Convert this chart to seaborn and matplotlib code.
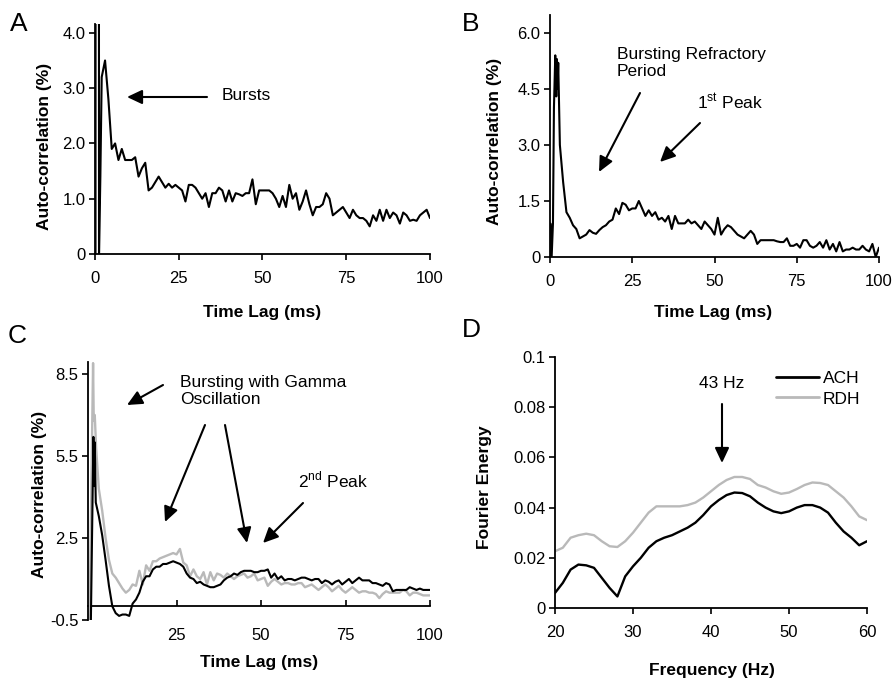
import numpy as np
import pandas as pd
import matplotlib
matplotlib.use("Agg")
import matplotlib.pyplot as plt
import seaborn as sns

# ---------------- data ----------------
# Panel A (auto-correlation, ms lag)
lag_a_start = [0.15, 0.2, 1.15, 1.2, 1.6]
acf_a_start = [0, 12, 12, 0, 1.4]
lag_a = list(range(2, 101))
acf_a = [3.2, 3.5, 2.8, 1.9, 2.0, 1.7, 1.9, 1.7, 1.7, 1.7,
         1.75, 1.4, 1.55, 1.65, 1.15, 1.2, 1.3, 1.4, 1.3, 1.2,
         1.27, 1.2, 1.25, 1.2, 1.15, 0.95, 1.25, 1.25, 1.2, 1.1,
         1.0, 1.1, 0.85, 1.1, 1.1, 1.2, 1.15, 0.95, 1.15, 0.95,
         1.1, 1.08, 1.05, 1.1, 1.1, 1.35, 0.9, 1.15, 1.15, 1.15,
         1.15, 1.1, 1.0, 0.85, 1.05, 0.85, 1.25, 1.0, 1.1, 0.8,
         0.95, 1.15, 0.9, 0.7, 0.85, 0.85, 0.9, 1.1, 1.0, 0.7,
         0.75, 0.8, 0.85, 0.75, 0.65, 0.8, 0.7, 0.65, 0.65, 0.6,
         0.5, 0.7, 0.6, 0.8, 0.6, 0.8, 0.65, 0.75, 0.7, 0.55,
         0.75, 0.7, 0.6, 0.62, 0.6, 0.7, 0.75, 0.8, 0.65]

# Panel B
lag_b_start = [0, 0.1, 0.5, 0.9, 1.2, 1.6, 1.9, 2.1, 2.3, 2.5]
acf_b_start = [0, 0.9, 0, 0.9, 4.0, 5.4, 4.3, 5.3, 4.5, 5.2]
lag_b = list(range(3, 101))
acf_b = [3.0, 2.0, 1.2, 1.05, 0.85, 0.75, 0.5, 0.55, 0.6, 0.72,
         0.65, 0.62, 0.72, 0.8, 0.85, 0.95, 1.0, 1.3, 1.15, 1.45,
         1.4, 1.25, 1.3, 1.3, 1.5, 1.3, 1.1, 1.25, 1.1, 1.2,
         1.0, 1.05, 0.95, 1.1, 0.75, 1.1, 0.9, 0.9, 0.9, 1.0,
         0.9, 0.95, 0.85, 0.75, 0.95, 0.85, 0.75, 0.6, 1.05, 0.6,
         0.75, 0.85, 0.8, 0.7, 0.6, 0.55, 0.5, 0.6, 0.7, 0.6,
         0.35, 0.45, 0.45, 0.45, 0.45, 0.45, 0.42, 0.4, 0.4, 0.5,
         0.3, 0.3, 0.35, 0.25, 0.45, 0.45, 0.3, 0.25, 0.3, 0.4,
         0.25, 0.45, 0.2, 0.35, 0.15, 0.4, 0.15, 0.2, 0.2, 0.25,
         0.2, 0.2, 0.3, 0.2, 0.15, 0.35, 0.0, 0.25]

# Panel C
lag_c_ach_start = [-0.4, 0.4, 0.6, 0.8, 1.1]
acf_c_ach_start = [-1.0, 6.2, 4.4, 6.0, 3.8]
lag_c_rdh_start = [-0.8, 0.3, 0.5, 0.8, 1.2]
acf_c_rdh_start = [-1.0, 8.9, 6.8, 7.0, 5.8]
lag_c = list(range(2, 101))
acf_c_ach = [3.3, 2.6, 1.7, 0.75, 0.0, -0.25, -0.35, -0.3, -0.3, -0.35,
             0.1, 0.25, 0.5, 0.9, 1.1, 1.1, 1.35, 1.45, 1.45, 1.55,
             1.55, 1.6, 1.65, 1.6, 1.55, 1.45, 1.2, 1.05, 1.0, 0.85,
             0.9, 0.8, 0.75, 0.7, 0.7, 0.75, 0.8, 0.95, 1.05, 1.1,
             1.2, 1.15, 1.25, 1.3, 1.3, 1.3, 1.25, 1.25, 1.3, 1.3,
             1.35, 1.05, 1.2, 1.0, 1.1, 0.95, 1.0, 1.0, 0.95, 1.0,
             1.05, 1.05, 1.0, 0.95, 1.0, 1.0, 0.85, 0.95, 0.9, 0.8,
             0.9, 0.95, 0.8, 0.9, 1.0, 0.85, 0.95, 1.05, 0.95, 0.95,
             0.95, 0.85, 0.85, 0.8, 0.75, 0.85, 0.8, 0.55, 0.6, 0.6,
             0.6, 0.6, 0.7, 0.65, 0.6, 0.65, 0.6, 0.6, 0.6]
acf_c_rdh = [4.3, 3.5, 2.5, 1.7, 1.2, 1.05, 0.85, 0.65, 0.5, 0.6,
             0.8, 0.75, 1.3, 0.8, 1.5, 1.3, 1.65, 1.65, 1.75, 1.8,
             1.85, 1.9, 1.95, 1.9, 2.1, 1.6, 1.5, 1.1, 1.35, 1.1,
             1.0, 1.25, 0.8, 1.25, 0.95, 1.2, 1.15, 1.05, 1.2, 1.1,
             1.0, 1.1, 1.15, 1.2, 1.05, 1.1, 1.2, 0.95, 1.0, 1.05,
             0.75, 0.9, 1.0, 0.9, 0.8, 0.85, 0.85, 0.8, 0.8, 0.85,
             0.85, 0.7, 0.75, 0.8, 0.7, 0.6, 0.7, 0.8, 0.7, 0.55,
             0.65, 0.75, 0.6, 0.5, 0.6, 0.7, 0.6, 0.5, 0.55, 0.55,
             0.5, 0.5, 0.45, 0.3, 0.45, 0.55, 0.5, 0.5, 0.5, 0.5,
             0.6, 0.55, 0.4, 0.5, 0.5, 0.45, 0.4, 0.4, 0.4]

# Panel D (Fourier energy)
freq_d = list(range(20, 61))
energy_ach = [0.006, 0.010, 0.0153, 0.0173, 0.017, 0.016, 0.012, 0.008, 0.0046, 0.0126,
              0.0166, 0.020, 0.024, 0.0266, 0.028, 0.029, 0.0305, 0.032, 0.034, 0.037,
              0.0405, 0.043, 0.045, 0.046, 0.0458, 0.0445, 0.042, 0.040, 0.0385, 0.0378,
              0.0385, 0.040, 0.041, 0.041, 0.040, 0.038, 0.034, 0.0305, 0.028, 0.025,
              0.0266]
energy_rdh = [0.0226, 0.024, 0.028, 0.029, 0.0296, 0.029, 0.0266, 0.0246, 0.0243, 0.0266,
              0.030, 0.034, 0.038, 0.0405, 0.0405, 0.0405, 0.0405, 0.041, 0.042, 0.044,
              0.0465, 0.049, 0.051, 0.0522, 0.0522, 0.0514, 0.049, 0.048, 0.0465, 0.0455,
              0.046, 0.0474, 0.049, 0.050, 0.0498, 0.049, 0.0465, 0.044, 0.0405, 0.0365,
              0.035]

yticks_a = [0, 1.0, 2.0, 3.0, 4.0]
ytick_labels_a = ["0", "1.0", "2.0", "3.0", "4.0"]
yticks_b = [0, 1.5, 3.0, 4.5, 6.0]
ytick_labels_b = ["0", "1.5", "3.0", "4.5", "6.0"]
yticks_c = [-0.5, 2.5, 5.5, 8.5]
ytick_labels_c = ["-0.5", "2.5", "5.5", "8.5"]
yticks_d = [0, 0.02, 0.04, 0.06, 0.08, 0.1]
ytick_labels_d = ["0", "0.02", "0.04", "0.06", "0.08", "0.1"]
xticks_lag = [0, 25, 50, 75, 100]
xticks_c = [25, 50, 75, 100]
xticks_d = [20, 30, 40, 50, 60]

# ---------------- style ----------------
sns.set_theme(style="ticks")
plt.rcParams["font.family"] = ["Liberation Sans", "DejaVu Sans"]
plt.rcParams["mathtext.fontset"] = "custom"
plt.rcParams["mathtext.rm"] = "Liberation Sans"
plt.rcParams["axes.linewidth"] = 1.3
plt.rcParams["axes.edgecolor"] = "black"
plt.rcParams["text.color"] = "black"
plt.rcParams["axes.labelcolor"] = "black"
plt.rcParams["xtick.color"] = "black"
plt.rcParams["ytick.color"] = "black"

W, H = 895, 680
fig = plt.figure(figsize=(W / 100, H / 100), dpi=100)


def fx(px):
    return px / W


def fy(py):
    return 1 - py / H


def add_axes(l, r, top, bottom):
    return fig.add_axes([fx(l), fy(bottom), (r - l) / W, (bottom - top) / H])


BLACK = "black"
GRAY = "#b9b9b9"
TICK_FS = 12
LABEL_FS = 12.5


def style_axes(ax):
    sns.despine(ax=ax)
    ax.tick_params(axis="both", direction="out", length=4, width=1.2,
                   labelsize=TICK_FS, colors="black", labelcolor="black", pad=3)
    ax.set_xlabel("")
    ax.set_ylabel("")


# ---- Panel A ----
axA = add_axes(95, 430, 24, 254)
dfA = pd.DataFrame({"lag": lag_a_start + lag_a, "acf": acf_a_start + acf_a})
sns.lineplot(data=dfA, x="lag", y="acf", ax=axA, color=BLACK, lw=1.5,
             estimator=None, sort=False)
axA.set_xlim(0, 100)
axA.set_ylim(0, 4.16)
axA.set_xticks(xticks_lag)
axA.set_yticks(yticks_a, ytick_labels_a)
style_axes(axA)
axA.tick_params(axis="x", pad=8)

# ---- Panel B ----
axB = add_axes(550, 879, 15, 257)
dfB = pd.DataFrame({"lag": lag_b_start + lag_b, "acf": acf_b_start + acf_b})
sns.lineplot(data=dfB, x="lag", y="acf", ax=axB, color=BLACK, lw=1.5,
             estimator=None, sort=False)
axB.set_xlim(0, 100)
axB.set_ylim(0, 6.48)
axB.set_xticks(xticks_lag)
axB.set_yticks(yticks_b, ytick_labels_b)
style_axes(axB)
axB.tick_params(axis="x", pad=8)

# ---- Panel C ----
axC = add_axes(88, 430, 362, 620)
dfC_r = pd.DataFrame({"lag": lag_c_rdh_start + lag_c, "acf": acf_c_rdh_start + acf_c_rdh})
dfC_a = pd.DataFrame({"lag": lag_c_ach_start + lag_c, "acf": acf_c_ach_start + acf_c_ach})
sns.lineplot(data=dfC_r, x="lag", y="acf", ax=axC, color=GRAY, lw=1.7,
             estimator=None, sort=False)
sns.lineplot(data=dfC_a, x="lag", y="acf", ax=axC, color=BLACK, lw=1.5,
             estimator=None, sort=False)
c_ylim = (-0.5, 8.94)
axC.set_xlim(-1.2, 100)
axC.set_ylim(*c_ylim)
axC.set_xticks(xticks_c)
axC.set_yticks(yticks_c, ytick_labels_c)
style_axes(axC)
axC.spines["bottom"].set_visible(False)
axC.tick_params(axis="x", length=0, pad=6)
zero_frac = (0 - c_ylim[0]) / (c_ylim[1] - c_ylim[0])
secC = axC.secondary_xaxis(zero_frac)
secC.set_xticks(xticks_c)
secC.tick_params(axis="x", direction="in", length=4, width=1.2,
                 labelbottom=False, labeltop=False)
secC.spines["bottom"].set_linewidth(1.3)

# ---- Panel D ----
axD = add_axes(555, 867, 357, 608)
dfD = pd.DataFrame({
    "freq": freq_d + freq_d,
    "energy": energy_ach + energy_rdh,
    "series": ["ACH"] * len(freq_d) + ["RDH"] * len(freq_d),
})
sns.lineplot(data=dfD, x="freq", y="energy", hue="series",
             hue_order=["ACH", "RDH"], palette={"ACH": BLACK, "RDH": GRAY},
             ax=axD, lw=1.7, estimator=None, sort=False)
axD.set_xlim(20, 60)
axD.set_ylim(0, 0.1)
axD.set_xticks(xticks_d)
axD.set_yticks(yticks_d, ytick_labels_d)
style_axes(axD)
axD.tick_params(axis="x", pad=8)
leg = axD.legend(loc="upper left", bbox_to_anchor=(fx(776), fy(371)),
                 bbox_transform=fig.transFigure, frameon=False, fontsize=12.5,
                 handlelength=2.5, handletextpad=0.2, borderpad=0,
                 borderaxespad=0, labelspacing=0.3)
for line in leg.get_lines():
    line.set_linewidth(2.0)
for t in leg.get_texts():
    t.set_color("black")

# ---------------- labels ----------------
def ftext(px, py, s, **kw):
    fig.text(fx(px), fy(py), s, color="black", **kw)


for letter, (px, py) in {"A": (10, 24), "B": (462, 24), "C": (8, 336), "D": (462, 330)}.items():
    ftext(px, py, letter, fontsize=19, ha="left", va="center")

ylab_kw = dict(fontsize=LABEL_FS, fontweight="bold", rotation=90, ha="center", va="center")
ftext(45, 146, "Auto-correlation (%)", **ylab_kw)
ftext(495, 141, "Auto-correlation (%)", **ylab_kw)
ftext(40, 494, "Auto-correlation (%)", **ylab_kw)
ftext(485, 487, "Fourier Energy", **ylab_kw)

xlab_kw = dict(fontsize=LABEL_FS, fontweight="bold", ha="center", va="center")
ftext(262, 313, "Time Lag (ms)", **xlab_kw)
ftext(713, 313, "Time Lag (ms)", **xlab_kw)
ftext(259, 663, "Time Lag (ms)", **xlab_kw)
ftext(712, 670, "Frequency (Hz)", **xlab_kw)

ANN_FS = 12.5
ann_kw = dict(fontsize=ANN_FS, ha="left", va="center")
ftext(222, 96, "Bursts", **ann_kw)
ftext(617, 63, "Bursting Refractory\nPeriod", fontsize=ANN_FS, ha="left", va="center",
      linespacing=1.15)
ftext(697, 102, "1$^{\\mathrm{st}}$ Peak", **ann_kw)
ftext(180, 391, "Bursting with Gamma\nOscillation", fontsize=ANN_FS, ha="left",
      va="center", linespacing=1.2)
ftext(298, 480, "2$^{\\mathrm{nd}}$ Peak", **ann_kw)
ftext(722, 383, "43 Hz", fontsize=ANN_FS, ha="center", va="center")


def arrow(x0, y0, x1, y1):
    fig.add_artist(matplotlib.patches.FancyArrowPatch(
        (fx(x0), fy(y0)), (fx(x1), fy(y1)), transform=fig.transFigure,
        arrowstyle="-|>,head_length=0.7,head_width=0.33", mutation_scale=13,
        color="black", lw=1.5, shrinkA=0, shrinkB=0))


arrow(207, 97, 127, 97)
arrow(640, 93, 599, 172)
arrow(700, 123, 660, 162)
arrow(163, 385, 127, 405)
arrow(205, 425, 165, 522)
arrow(225, 425, 247, 543)
arrow(303, 503, 263, 543)
arrow(722, 404, 722, 463)

fig.savefig("out.png", dpi=100)
